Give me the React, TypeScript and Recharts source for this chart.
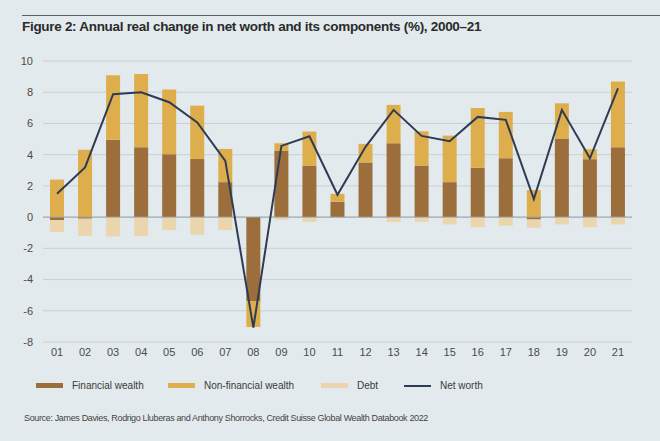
import React from 'react';
import {
  ComposedChart, Bar, Line, XAxis, YAxis, CartesianGrid, ReferenceLine,
} from 'recharts';

const years = ['01', '02', '03', '04', '05', '06', '07', '08', '09', '10', '11',
  '12', '13', '14', '15', '16', '17', '18', '19', '20', '21'];
const financialWealth = [-0.2, -0.1, 4.95, 4.48, 4.03, 3.73, 2.24, -5.37, 4.26, 3.28, 0.98,
  3.5, 4.73, 3.28, 2.24, 3.16, 3.77, -0.15, 5.03, 3.71, 4.48];
const nonFinancialWealth = [2.4, 4.31, 4.13, 4.69, 4.14, 3.41, 2.13, -1.67, 0.47, 2.2, 0.51,
  1.19, 2.46, 2.22, 2.98, 3.83, 2.97, 1.73, 2.26, 0.64, 4.2];
const debt = [-0.75, -1.1, -1.24, -1.22, -0.83, -1.13, -0.83, 0, -0.17, -0.3, -0.05,
  -0.05, -0.32, -0.3, -0.47, -0.64, -0.55, -0.53, -0.47, -0.64, -0.47];
const netWorth = [1.49, 3.18, 7.87, 8.0, 7.36, 6.06, 3.6, -7.08, 4.56, 5.18, 1.43,
  4.5, 6.87, 5.2, 4.86, 6.42, 6.23, 1.15, 6.87, 3.77, 8.25];
const yTicks = [-8, -6, -4, -2, 0, 2, 4, 6, 8, 10];

const data = years.map((y, i) => ({
  year: y,
  financial: financialWealth[i],
  nonFinancial: nonFinancialWealth[i],
  debt: debt[i],
  net: netWorth[i],
}));

const C_FIN = '#9c6e3b';
const C_NONFIN = '#deae4d';
const C_DEBT = '#ead5ad';
const C_NET = '#2e3b54';
const BG = '#e3eaed';
const FONT = '"Liberation Sans", Arial, sans-serif';

const legendItems = [
  { label: 'Financial wealth', color: C_FIN, x: 36, tx: 72, line: false },
  { label: 'Non-financial wealth', color: C_NONFIN, x: 168, tx: 204, line: false },
  { label: 'Debt', color: C_DEBT, x: 321, tx: 357, line: false },
  { label: 'Net worth', color: C_NET, x: 404, tx: 440, line: true },
];

export default function App() {
  return (
    <div style={{
      position: 'fixed', top: 0, left: 0, width: 660, height: 441,
      background: BG, fontFamily: FONT, overflow: 'hidden',
    }}>
      <div style={{ position: 'absolute', top: 15, left: 22, right: 0, height: 1, background: '#5c5f62' }} />
      <div style={{
        position: 'absolute', top: 19, left: 22, fontSize: 13.5, fontWeight: 700,
        color: '#2a2a2a', letterSpacing: -0.3, whiteSpace: 'nowrap',
      }}>
        Figure 2: Annual real change in net worth and its components (%), 2000–21
      </div>
      <div style={{ position: 'absolute', top: 0, left: 0 }}>
        <ComposedChart
          width={660}
          height={441}
          data={data}
          stackOffset="sign"
          margin={{ top: 61, right: 28, bottom: 69, left: 0 }}
        >
          <CartesianGrid vertical={false} stroke="#c8d0d4" strokeWidth={1} />
          <XAxis
            dataKey="year"
            axisLine={false}
            tickLine={false}
            tickMargin={0}
            height={30}
            tick={{ fontSize: 11, fill: '#4a4a4a', fontFamily: FONT }}
          />
          <YAxis
            domain={[-8, 10]}
            ticks={yTicks}
            axisLine={false}
            tickLine={false}
            tickMargin={4}
            width={43}
            tick={{ fontSize: 11, fill: '#4a4a4a', fontFamily: FONT }}
          />
          <ReferenceLine y={0} stroke="#9aa2a7" strokeWidth={1} />
          <Bar dataKey="financial" stackId="a" fill={C_FIN} barSize={14} isAnimationActive={false} />
          <Bar dataKey="nonFinancial" stackId="a" fill={C_NONFIN} barSize={14} isAnimationActive={false} />
          <Bar dataKey="debt" stackId="a" fill={C_DEBT} barSize={14} isAnimationActive={false} />
          <Line
            dataKey="net"
            type="linear"
            stroke={C_NET}
            strokeWidth={2}
            dot={false}
            isAnimationActive={false}
          />
        </ComposedChart>
      </div>
      {legendItems.map((it) => (
        <React.Fragment key={it.label}>
          <div style={{
            position: 'absolute', left: it.x, width: 27,
            top: it.line ? 384.5 : 383, height: it.line ? 2 : 5, background: it.color,
          }} />
          <div style={{
            position: 'absolute', left: it.tx, top: 379, fontSize: 10, lineHeight: '13px',
            color: '#3a3a3a', whiteSpace: 'nowrap',
          }}>
            {it.label}
          </div>
        </React.Fragment>
      ))}
      <div style={{
        position: 'absolute', top: 413, left: 24, fontSize: 9, color: '#444',
        letterSpacing: -0.35, whiteSpace: 'nowrap',
      }}>
        Source: James Davies, Rodrigo Lluberas and Anthony Shorrocks, Credit Suisse Global Wealth Databook 2022
      </div>
    </div>
  );
}
